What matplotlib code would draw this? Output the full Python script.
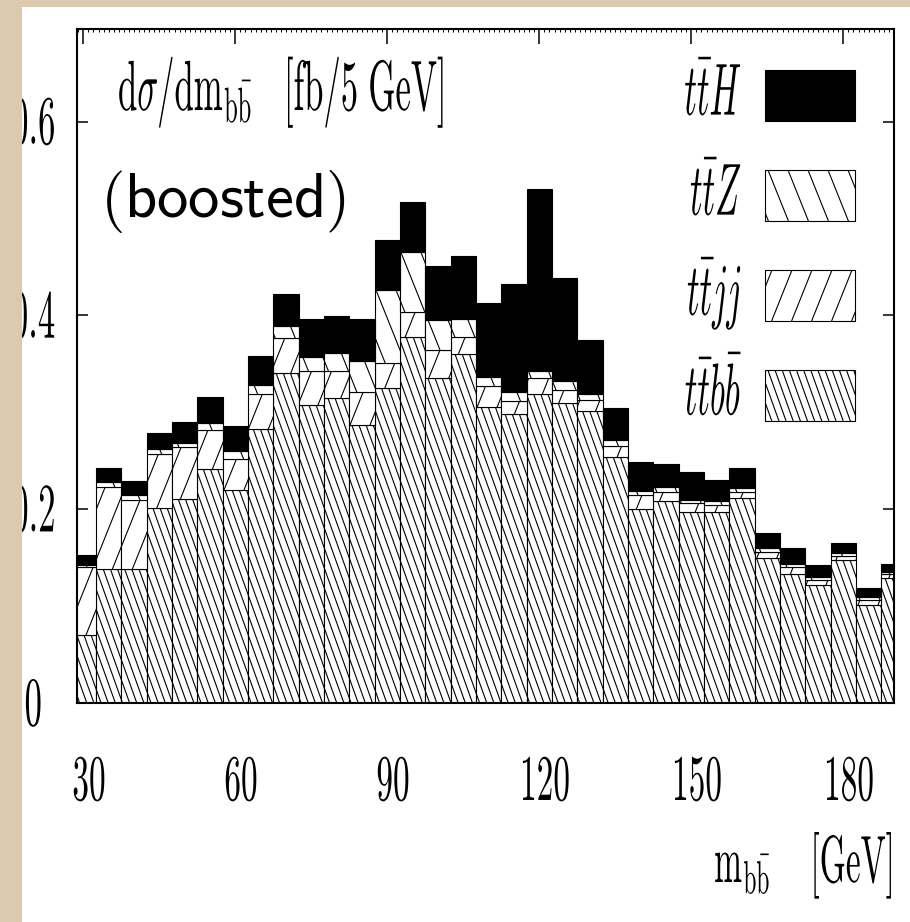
import numpy as np
import matplotlib
matplotlib.use("Agg")
import matplotlib.pyplot as plt
import matplotlib.hatch as mhatch
from matplotlib.path import Path
from matplotlib.patches import Rectangle
from matplotlib.patheffects import AbstractPathEffect
from matplotlib.transforms import Affine2D, Bbox, TransformedBbox
from matplotlib.ticker import MultipleLocator

# ---------------------------------------------------------------- data
# bin centres of m_bb [GeV], 5 GeV bins
m_bb = [30, 35, 40, 45, 50, 55, 60, 65, 70, 75, 80, 85, 90, 95, 100, 105,
        110, 115, 120, 125, 130, 135, 140, 145, 150, 155, 160, 165, 170,
        175, 180, 185, 190]

# d sigma / d m_bb  [fb / 5 GeV], one list per process (stacked bottom -> top)
ttbb = [0.070, 0.138, 0.138, 0.201, 0.211, 0.241, 0.220, 0.283, 0.341, 0.308,
        0.315, 0.287, 0.325, 0.378, 0.335, 0.360, 0.305, 0.298, 0.319, 0.310,
        0.301, 0.254, 0.200, 0.208, 0.197, 0.197, 0.212, 0.150, 0.133, 0.122,
        0.148, 0.101, 0.129]
ttjj = [0.070, 0.085, 0.071, 0.056, 0.053, 0.041, 0.032, 0.036, 0.036, 0.035,
        0.028, 0.034, 0.026, 0.026, 0.029, 0.018, 0.022, 0.014, 0.016, 0.013,
        0.012, 0.011, 0.015, 0.010, 0.009, 0.007, 0.006, 0.006, 0.007, 0.005,
        0.004, 0.005, 0.004]
ttz = [0.002, 0.005, 0.006, 0.005, 0.004, 0.007, 0.008, 0.009, 0.012, 0.014,
       0.018, 0.032, 0.075, 0.061, 0.031, 0.018, 0.009, 0.009, 0.008, 0.009,
       0.006, 0.006, 0.004, 0.005, 0.004, 0.004, 0.004, 0.004, 0.003, 0.003,
       0.003, 0.003, 0.002]
tth = [0.011, 0.015, 0.014, 0.017, 0.022, 0.027, 0.026, 0.030, 0.033, 0.039,
       0.038, 0.043, 0.052, 0.052, 0.056, 0.065, 0.077, 0.111, 0.187, 0.107,
       0.056, 0.033, 0.030, 0.024, 0.028, 0.022, 0.021, 0.015, 0.017, 0.012,
       0.010, 0.010, 0.008]

process_labels = [r"$t\bar{t}H$", r"$t\bar{t}Z$", r"$t\bar{t}jj$",
                  r"$t\bar{t}b\bar{b}$"]
xtick_values = [30, 60, 90, 120, 150, 180]
ytick_values = [0, 0.2, 0.4, 0.6]
ytick_labels = ["$0$", "$0.2$", "$0.4$", "$0.6$"]
title_text = r"$\mathrm{d}\sigma/\mathrm{dm}_{\mathrm{b\bar{b}}}\quad[\mathrm{fb/5\ GeV}]$"
xlabel_text = r"$\mathrm{m}_{\mathrm{b\bar{b}}}\quad\ [\mathrm{GeV}]$"
tag_text = r"$\mathsf{(boosted)}$"

BIN_WIDTH = 5.0
BEIGE = "#dccaae"

plt.rcParams["mathtext.fontset"] = "cm"
plt.rcParams["hatch.linewidth"] = 0.8


# ------------------------------------------------- steep hatch patterns
class _SteepLines(mhatch.HatchPatternBase):
    """Parallel lines steeper than 45 degrees, tiling seamlessly."""
    symbol = "/"
    lean = 1.0

    def __init__(self, hatch, density):
        n = hatch.count(self.symbol)
        self.per_tile = int(round(4.6 * n))
        self.drift = int(round(0.36 * self.per_tile))
        self.num_vertices = 2 * (self.per_tile + self.drift + 1) if n else 0

    def set_vertices_and_codes(self, vertices, codes):
        N, q = self.per_tile, self.drift
        if self.lean > 0:
            start = np.arange(-q, N + 1) / N
        else:
            start = np.arange(0, N + q + 1) / N
        vertices[0::2, 0] = start
        vertices[0::2, 1] = 0.0
        vertices[1::2, 0] = start + self.lean * q / N
        vertices[1::2, 1] = 1.0
        codes[0::2] = Path.MOVETO
        codes[1::2] = Path.LINETO


class _SteepNE(_SteepLines):
    symbol = "/"
    lean = 1.0


class _SteepSE(_SteepLines):
    symbol = "\\"
    lean = -1.0


mhatch._hatch_types = [
    _SteepNE if t is mhatch.NorthEastHatch else
    _SteepSE if t is mhatch.SouthEastHatch else t
    for t in mhatch._hatch_types
]


# ------------------------------------------- tall, narrow type effect
class TallType(AbstractPathEffect):
    """Draw glyph outlines stretched vertically about the baseline."""

    def __init__(self, sy=2.0, offset=(0.0, 0.0)):
        super().__init__(offset=offset)
        self._sy = sy

    def draw_path(self, renderer, gc, tpath, affine, rgbFace=None):
        tr = (Affine2D().scale(1.0, self._sy) + affine
              + self._offset_transform(renderer))
        renderer.draw_path(gc, tpath, tr, rgbFace)


# ---------------------------------------------------------------- figure
W, H = 910, 922
fig = plt.figure(figsize=(W / 100, H / 100), dpi=100, facecolor=BEIGE)
fig.add_artist(Rectangle((22 / W, 0), 1 - 22 / W, 915 / H,
                         transform=fig.transFigure, facecolor="white",
                         edgecolor="none", zorder=-10))

ax = fig.add_axes([77 / W, (H - 703) / H, 817 / W, 674 / H])
ax.set_facecolor("white")

bottom = np.zeros(len(m_bb))
layers = [
    (ttbb, "white", "\\\\\\"),
    (ttjj, "white", "/"),
    (ttz, "white", "\\"),
    (tth, "black", None),
]
containers = []
for vals, face, hatch in layers:
    vals = np.asarray(vals)
    bc = ax.bar(m_bb, vals, width=BIN_WIDTH, bottom=bottom, color=face,
                edgecolor="black", hatch=hatch, linewidth=0.8)
    containers.append(bc)
    bottom = bottom + vals

ax.set_xlim(28.75, 190)
ax.set_ylim(0, 0.6956)
ax.set_axisbelow(True)

for sp in ax.spines.values():
    sp.set_linewidth(1.5)

ax.set_xticks(xtick_values, labels=[f"${v}$" for v in xtick_values])
ax.set_yticks(ytick_values, labels=ytick_labels)
ax.xaxis.set_minor_locator(MultipleLocator(1))
ax.tick_params(which="major", direction="in", top=True, right=True,
               width=1.1)
ax.tick_params(axis="x", which="major", length=10.8, pad=70, labelsize=24)
ax.tick_params(axis="y", which="major", length=8, pad=31.3, labelsize=25)
ax.tick_params(axis="x", which="minor", direction="in", top=True,
               bottom=True, length=2.2, width=0.7)

for lab in ax.get_xticklabels():
    lab.set_va("baseline")
    lab.set_path_effects([TallType(1.95, offset=(4.3, 0.0))])

label_clip = TransformedBbox(Bbox.from_extents(22 / W, 0, 1, 1),
                             fig.transFigure)
for lab in ax.get_yticklabels():
    lab.set_ha("center")
    lab.set_va("baseline")
    lab.set_path_effects([TallType(2.0, offset=(0.0, -16.2))])
    lab.set_clip_box(label_clip)
    lab.set_clip_on(True)

ax.set_xlabel(xlabel_text, fontsize=24, loc="right")
ax.xaxis.set_label_coords(0.9988, -0.2656)
ax.xaxis.label.set_va("baseline")
ax.xaxis.label.set_ha("right")
ax.xaxis.label.set_path_effects([TallType(2.0)])

ax.text(0.0502, 0.8798, title_text, transform=ax.transAxes, fontsize=25,
        ha="left", va="baseline", path_effects=[TallType(2.05)])
ax.text(0.0282, 0.7211, tag_text, transform=ax.transAxes, fontsize=45,
        ha="left", va="baseline")

leg = ax.legend(handles=containers[::-1], labels=process_labels,
                loc="upper right", bbox_to_anchor=(0.9523, 0.9392),
                frameon=False, markerfirst=False, fontsize=25,
                handlelength=2.592, handleheight=1.883, labelspacing=1.411,
                handletextpad=0.66, borderpad=0, borderaxespad=0)
for t in leg.get_texts():
    t.set_path_effects([TallType(2.12, offset=(0.0, -6.0))])

fig.savefig("out.png", dpi=100, facecolor=fig.get_facecolor())
